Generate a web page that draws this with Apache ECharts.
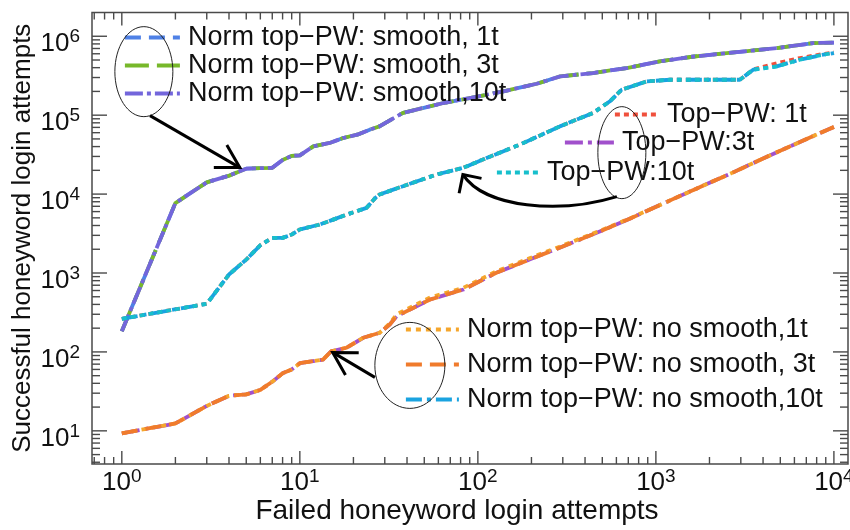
<!DOCTYPE html>
<html>
<head>
<meta charset="utf-8">
<script src="https://cdn.jsdelivr.net/npm/echarts@6/dist/echarts.min.js"></script>
<style>
  html, body { margin: 0; padding: 0; background: #fff; }
  #chart { width: 850px; height: 530px; }
</style>
</head>
<body>
<div id="chart"></div>
<script>
// Failed vs. successful honeyword login attempts, log-log.

// Normalized top-PW with smoothing (1t, 3t and 10t coincide)
const smoothX = [1, 2, 3, 4, 5, 6, 7, 8, 9, 10, 11.9, 14.7, 17.5, 21, 24.7, 28, 35, 38, 49, 64, 90, 139, 214, 290, 443, 685, 1050, 1600, 2500, 4770, 7660, 10000];
const smoothY = [183, 7700, 14100, 17100, 21000, 21300, 21500, 27000, 30500, 31000, 40300, 44500, 51400, 56600, 65500, 72100, 96600, 106700, 123000, 142600, 165000, 200000, 250000, 310000, 342000, 395000, 480000, 550000, 612000, 708000, 820000, 830000];

// Top-PW curve (10t shown on top; 1t drifts slightly higher at the end)
const topX = [1, 3, 4, 5, 6, 7, 8, 9, 10, 12.9, 15.4, 18.3, 23.7, 26.5, 28, 38, 58.6, 82.7, 112, 172, 289, 358, 444, 552, 642, 887, 1200, 2960, 3520, 4770, 6440, 8710, 10000];
const topY10t = [263, 407, 957, 1480, 2250, 2790, 2790, 3070, 3560, 4110, 4750, 5500, 6690, 8950, 9860, 12600, 17700, 21500, 28700, 42300, 72100, 87700, 106700, 150000, 210000, 268000, 281000, 281000, 377000, 415000, 504000, 584000, 612000];
const topY1t = [263, 407, 957, 1480, 2250, 2790, 2790, 3070, 3560, 4110, 4750, 5500, 6690, 8950, 9860, 12600, 17700, 21500, 28700, 42300, 72100, 87700, 106700, 150000, 210000, 268000, 281000, 281000, 380000, 455000, 530000, 595000, 625000];

// Normalized top-PW without smoothing
const noSmoothX = [1, 2, 3, 4, 5, 6, 7, 8, 9, 10, 13.5, 15, 18.3, 22.7, 28.1, 32, 35, 54, 83, 127, 195, 302, 465, 718, 1100, 1700, 2630, 4060, 6260, 10000];
const noSmoothY3t = [9.3, 12.4, 20.7, 27.8, 29, 33, 42, 53.5, 60, 72, 80, 102, 113, 151, 175, 223, 284, 462, 618, 1006, 1480, 2180, 3230, 4900, 7600, 11800, 18200, 28700, 44400, 71000];
const noSmoothY1t = [9.3, 12.4, 20.7, 27.8, 29, 33, 42, 53.5, 60, 72, 80, 102, 113, 151, 175, 230, 300, 490, 650, 1050, 1540, 2250, 3300, 4950, 7600, 11800, 18200, 28700, 44400, 71000];

// Axis extents and tick positions
const xRange = [0.68, 12000];
const yRange = [3.8, 2.0e6];
const xMajor = [1, 10, 100, 1000, 10000];
const yMajor = [10, 100, 1000, 10000, 100000, 1000000];

const FONT = 'Liberation Sans, Arial, sans-serif';

function pairs(xs, ys) { return xs.map((x, i) => [x, ys[i]]); }

// minor ticks: 2..9 within each decade, inside the extent
function minorTicks(range) {
  const out = [];
  for (let e = -1; e <= 6; e++) {
    for (let m = 2; m <= 9; m++) {
      const v = m * Math.pow(10, e);
      if (v > range[0] && v < range[1]) out.push(v);
    }
  }
  return out;
}

const tickData = [];
xMajor.forEach(v => tickData.push([v, yRange[0], 0, 1]));
minorTicks(xRange).forEach(v => tickData.push([v, yRange[0], 0, 0]));
yMajor.forEach(v => tickData.push([xRange[0], v, 1, 1]));
minorTicks(yRange).forEach(v => tickData.push([xRange[0], v, 1, 0]));

function powLabel(v) {
  const l = Math.log10(v);
  const e = Math.round(l);
  if (Math.abs(l - e) > 1e-6) return '';
  return '{b|10}{s|' + e + '}';
}
const labelRich = {
  b: { fontFamily: FONT, fontSize: 26, lineHeight: 32, color: '#111' },
  s: { fontFamily: FONT, fontSize: 19, lineHeight: 19, verticalAlign: 'top', color: '#111' }
};

function renderTick(params, api) {
  const cs = params.coordSys;
  const p = api.coord([api.value(0), api.value(1)]);
  const major = api.value(3) === 1;
  const style = { stroke: '#4a4a4a', lineWidth: 1.4 };
  if (api.value(2) === 0) {
    const len = major ? 13 : 7;
    const top = cs.y, bottom = cs.y + cs.height;
    return { type: 'group', children: [
      { type: 'line', shape: { x1: p[0], y1: bottom, x2: p[0], y2: bottom - len }, style },
      { type: 'line', shape: { x1: p[0], y1: top, x2: p[0], y2: top + len }, style }
    ] };
  }
  const len = major ? 15 : 8;
  const left = cs.x, right = cs.x + cs.width;
  return { type: 'group', children: [
    { type: 'line', shape: { x1: left, y1: p[1], x2: left + len, y2: p[1] }, style },
    { type: 'line', shape: { x1: right, y1: p[1], x2: right - len, y2: p[1] }, style }
  ] };
}

function lineSeries(name, data, color, dash) {
  return {
    name, type: 'line', data, symbol: 'none', silent: true,
    lineStyle: { color, width: 3.8, type: dash, cap: 'butt', join: 'round' },
    itemStyle: { color },
    emphasis: { disabled: true }
  };
}

const N1 = 'Norm top\u2212PW: smooth, 1t';
const N3 = 'Norm top\u2212PW: smooth, 3t';
const N10 = 'Norm top\u2212PW: smooth,10t';
const T1 = 'Top\u2212PW: 1t';
const T3 = 'Top\u2212PW:3t';
const T10 = 'Top\u2212PW:10t';
const S1 = 'Norm top\u2212PW: no smooth,1t';
const S3 = 'Norm top\u2212PW: no smooth, 3t';
const S10 = 'Norm top\u2212PW: no smooth,10t';

const legendBase = {
  orient: 'vertical', padding: 0, selectedMode: false, itemHeight: 14,
  textStyle: { fontFamily: FONT, fontSize: 27, color: '#111', padding: [0, 0, 0, 3] },
  lineStyle: { width: 3.8 },
  itemStyle: { opacity: 0 }
};

const chart = echarts.init(document.getElementById('chart'), null, { renderer: 'canvas' });

chart.setOption({
  animation: false,
  backgroundColor: '#fff',
  textStyle: { fontFamily: FONT },
  grid: {
    left: 92, right: 2, top: 12.5, bottom: 66,
    show: true, borderColor: '#4a4a4a', borderWidth: 1.5,
    containLabel: false, outerBoundsMode: 'none'
  },
  xAxis: {
    type: 'log', logBase: 10, min: xRange[0], max: xRange[1],
    name: 'Failed honeyword login attempts', nameLocation: 'middle', nameGap: 33, nameMoveOverlap: false,
    nameTextStyle: { fontFamily: FONT, fontSize: 28, color: '#111', padding: [0, 26, 0, 0] },
    axisLine: { show: false }, axisTick: { show: false }, splitLine: { show: false },
    axisLabel: { formatter: powLabel, rich: labelRich, margin: 3, hideOverlap: false }
  },
  yAxis: {
    type: 'log', logBase: 10, min: yRange[0], max: yRange[1],
    name: 'Successful honeyword login attempts', nameLocation: 'middle', nameGap: 56, nameRotate: 90, nameMoveOverlap: false,
    nameTextStyle: { fontFamily: FONT, fontSize: 26, color: '#111' },
    axisLine: { show: false }, axisTick: { show: false }, splitLine: { show: false },
    axisLabel: { formatter: powLabel, rich: labelRich, margin: 12, padding: [15, 0, 0, 0], hideOverlap: false }
  },
  legend: [
    Object.assign({}, legendBase, { left: 123, top: 24, itemWidth: 55, itemGap: 1, data: [N1, N3, N10] }),
    Object.assign({}, legendBase, { left: 613, top: 101, itemWidth: 44, data: [T1] }),
    Object.assign({}, legendBase, { left: 563, top: 129, itemWidth: 49, data: [T3] }),
    Object.assign({}, legendBase, { left: 495, top: 159, itemWidth: 42, data: [T10] }),
    Object.assign({}, legendBase, { left: 404, top: 316, itemWidth: 53, itemGap: 8, data: [S1, S3, S10] })
  ],
  series: [
    lineSeries(N1, pairs(smoothX, smoothY), '#4f81e6', [16, 8]),
    lineSeries(N3, pairs(smoothX, smoothY), '#77b82a', [24, 8]),
    lineSeries(N10, pairs(smoothX, smoothY), '#7366db', [18, 4, 4, 4]),
    lineSeries(T1, pairs(topX, topY1t), '#f0503c', [5, 4]),
    lineSeries(S10, pairs(topX, topY10t), '#1aa3e0', [16, 5, 4, 5]),
    lineSeries(T10, pairs(topX, topY10t), '#17bfcc', [5, 4]),
    lineSeries(T3, pairs(noSmoothX, noSmoothY3t), '#a150cc', [18, 5, 4, 5]),
    lineSeries(S1, pairs(noSmoothX, noSmoothY1t), '#f5a62c', [5, 5]),
    lineSeries(S3, pairs(noSmoothX, noSmoothY3t), '#f07b2c', [16, 8]),
    {
      type: 'custom', name: 'ticks', silent: true, z: 5,
      dimensions: ['x', 'y', 'axis', 'major'],
      encode: { x: 0, y: 1 },
      data: tickData,
      renderItem: renderTick
    }
  ]
});

// Callouts: ellipses around legend groups with arrows to the curves (data coordinates)
const callouts = {
  ellipses: [
    { c: [1.33, 356000], rx: 29, ry: 45 },
    { c: [644, 33500], rx: 24, ry: 46 },
    { c: [41.5, 67.5], rx: 35, ry: 43 }
  ],
  straight: [
    { from: [1.44, 98600], to: [4.6, 21650], spread: 30, len: 26 },
    { from: [26.4, 47.6], to: [15.3, 98.6], spread: 30, len: 26 }
  ],
  curved: [
    { from: [604, 9300], c1: [289, 5600], c2: [110, 6600], to: [82.4, 17660], spread: 45, len: 19 }
  ]
};

function toPx(pt) { return chart.convertToPixel({ gridIndex: 0 }, pt); }

function arrowHead(tip, back, spread, len) {
  const a = Math.atan2(back[1] - tip[1], back[0] - tip[0]);
  const s = spread * Math.PI / 180;
  return [
    [tip[0] + len * Math.cos(a - s), tip[1] + len * Math.sin(a - s)],
    tip,
    [tip[0] + len * Math.cos(a + s), tip[1] + len * Math.sin(a + s)]
  ];
}

const graphics = [];
const stroke = { fill: null, stroke: '#000', lineWidth: 3 };
callouts.ellipses.forEach(e => {
  const c = toPx(e.c);
  graphics.push({ type: 'ellipse', shape: { cx: c[0], cy: c[1], rx: e.rx, ry: e.ry }, style: { fill: null, stroke: '#222', lineWidth: 1 }, z: 20 });
});
callouts.straight.forEach(a => {
  const p0 = toPx(a.from), p1 = toPx(a.to);
  graphics.push({ type: 'line', shape: { x1: p0[0], y1: p0[1], x2: p1[0], y2: p1[1] }, style: stroke, z: 20 });
  graphics.push({ type: 'polyline', shape: { points: arrowHead(p1, p0, a.spread, a.len) }, style: stroke, z: 20 });
});
callouts.curved.forEach(a => {
  const p0 = toPx(a.from), q1 = toPx(a.c1), q2 = toPx(a.c2), p1 = toPx(a.to);
  graphics.push({ type: 'bezierCurve', shape: { x1: p0[0], y1: p0[1], cpx1: q1[0], cpy1: q1[1], cpx2: q2[0], cpy2: q2[1], x2: p1[0], y2: p1[1] }, style: stroke, z: 20 });
  graphics.push({ type: 'polyline', shape: { points: arrowHead(p1, q2, a.spread, a.len) }, style: stroke, z: 20 });
});
chart.setOption({ graphic: graphics });
</script>
</body>
</html>
